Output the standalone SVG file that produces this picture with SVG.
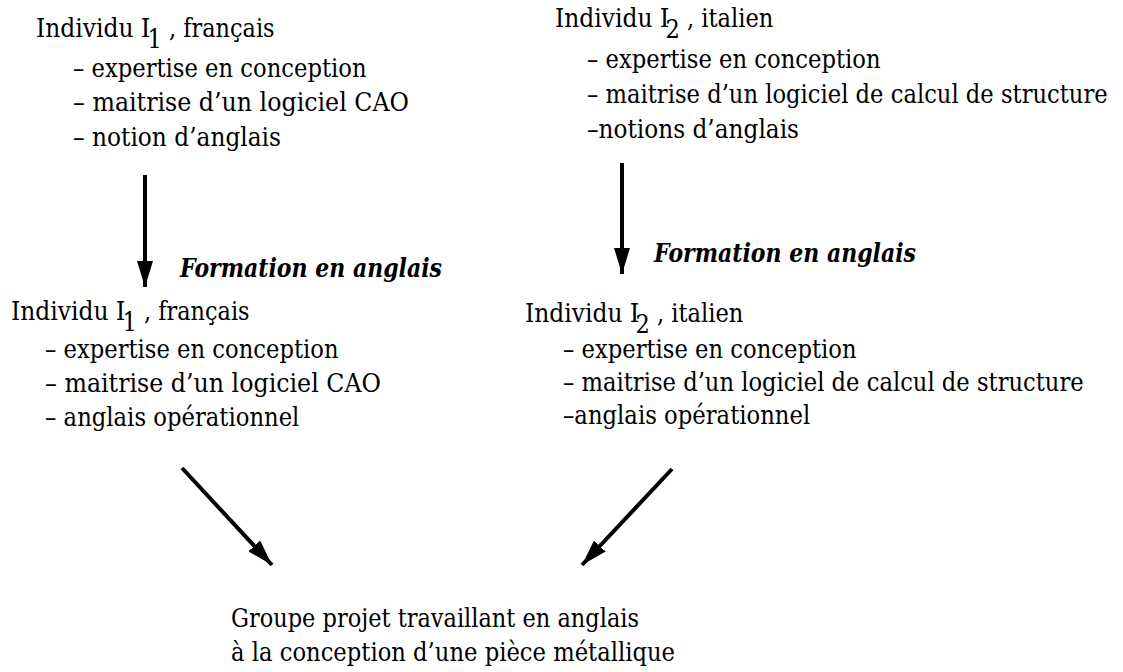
<svg xmlns="http://www.w3.org/2000/svg" width="1123" height="672" viewBox="0 0 1123 672">
<style>
text{font-family:'DejaVu Serif','Liberation Serif',serif;font-size:25.5px;fill:#000}
.em{font-weight:bold;font-style:italic}
.c{stroke:#000;stroke-width:4;fill:none}
</style>
<defs>
<marker id="ah" viewBox="0 0 26 16" refX="26" refY="8" markerWidth="26" markerHeight="16" markerUnits="userSpaceOnUse" orient="auto">
<path d="M0,0 L26,8 L0,16 Z" fill="#000"/>
</marker>
</defs>
<rect width="1123" height="672" fill="#fff"/>
<g id="n1">
<text x="36" y="37" textLength="97.6" lengthAdjust="spacingAndGlyphs">Individu</text>
<text x="140.8" y="37" textLength="9.6" lengthAdjust="spacingAndGlyphs">I</text>
<text x="147.4" y="48" textLength="14.4" lengthAdjust="spacingAndGlyphs">1</text>
<text x="169" y="37" textLength="105.6" lengthAdjust="spacingAndGlyphs">, français</text>
<text x="73" y="77" textLength="293.5" lengthAdjust="spacingAndGlyphs">– expertise en conception</text>
<text x="73" y="111" textLength="336" lengthAdjust="spacingAndGlyphs">– maitrise d’un logiciel CAO</text>
<text x="73" y="146" textLength="208" lengthAdjust="spacingAndGlyphs">– notion d’anglais</text>
</g>
<g id="n2">
<text x="555" y="27" textLength="97.6" lengthAdjust="spacingAndGlyphs">Individu</text>
<text x="659.8" y="27" textLength="9.6" lengthAdjust="spacingAndGlyphs">I</text>
<text x="665.4" y="38" textLength="14.4" lengthAdjust="spacingAndGlyphs">2</text>
<text x="687" y="27" textLength="86.4" lengthAdjust="spacingAndGlyphs">, italien</text>
<text x="587" y="68" textLength="293.5" lengthAdjust="spacingAndGlyphs">– expertise en conception</text>
<text x="587" y="103" textLength="520.7" lengthAdjust="spacingAndGlyphs">– maitrise d’un logiciel de calcul de structure</text>
<text x="587" y="138" textLength="212" lengthAdjust="spacingAndGlyphs">–notions d’anglais</text>
</g>
<g id="n3">
<text x="11" y="320" textLength="97.6" lengthAdjust="spacingAndGlyphs">Individu</text>
<text x="115.8" y="320" textLength="9.6" lengthAdjust="spacingAndGlyphs">I</text>
<text x="122.4" y="331" textLength="14.4" lengthAdjust="spacingAndGlyphs">1</text>
<text x="144" y="320" textLength="105.6" lengthAdjust="spacingAndGlyphs">, français</text>
<text x="45" y="358" textLength="293.5" lengthAdjust="spacingAndGlyphs">– expertise en conception</text>
<text x="45" y="392" textLength="336" lengthAdjust="spacingAndGlyphs">– maitrise d’un logiciel CAO</text>
<text x="45" y="426" textLength="254.4" lengthAdjust="spacingAndGlyphs">– anglais opérationnel</text>
</g>
<g id="n4">
<text x="525" y="322" textLength="97.6" lengthAdjust="spacingAndGlyphs">Individu</text>
<text x="629.8" y="322" textLength="9.6" lengthAdjust="spacingAndGlyphs">I</text>
<text x="635.4" y="333" textLength="14.4" lengthAdjust="spacingAndGlyphs">2</text>
<text x="657" y="322" textLength="86.4" lengthAdjust="spacingAndGlyphs">, italien</text>
<text x="563" y="358" textLength="293.5" lengthAdjust="spacingAndGlyphs">– expertise en conception</text>
<text x="563" y="391" textLength="520.7" lengthAdjust="spacingAndGlyphs">– maitrise d’un logiciel de calcul de structure</text>
<text x="563" y="424" textLength="247.2" lengthAdjust="spacingAndGlyphs">–anglais opérationnel</text>
</g>
<g id="n5">
<text x="231" y="627" textLength="408" lengthAdjust="spacingAndGlyphs">Groupe projet travaillant en anglais</text>
<text x="231" y="661" textLength="444" lengthAdjust="spacingAndGlyphs">à la conception d’une pièce métallique</text>
</g>
<g id="l1"><text class="em" x="180" y="277" textLength="262" lengthAdjust="spacingAndGlyphs">Formation en anglais</text></g>
<g id="l2"><text class="em" x="654" y="262" textLength="262" lengthAdjust="spacingAndGlyphs">Formation en anglais</text></g>
<g id="connectors">
<line class="c" x1="145" y1="175" x2="145" y2="287" marker-end="url(#ah)"/>
<line class="c" x1="622" y1="163" x2="622" y2="274" marker-end="url(#ah)"/>
<line class="c" x1="182" y1="468" x2="272" y2="565" marker-end="url(#ah)"/>
<line class="c" x1="672" y1="469" x2="582" y2="565" marker-end="url(#ah)"/>
</g>
</svg>
